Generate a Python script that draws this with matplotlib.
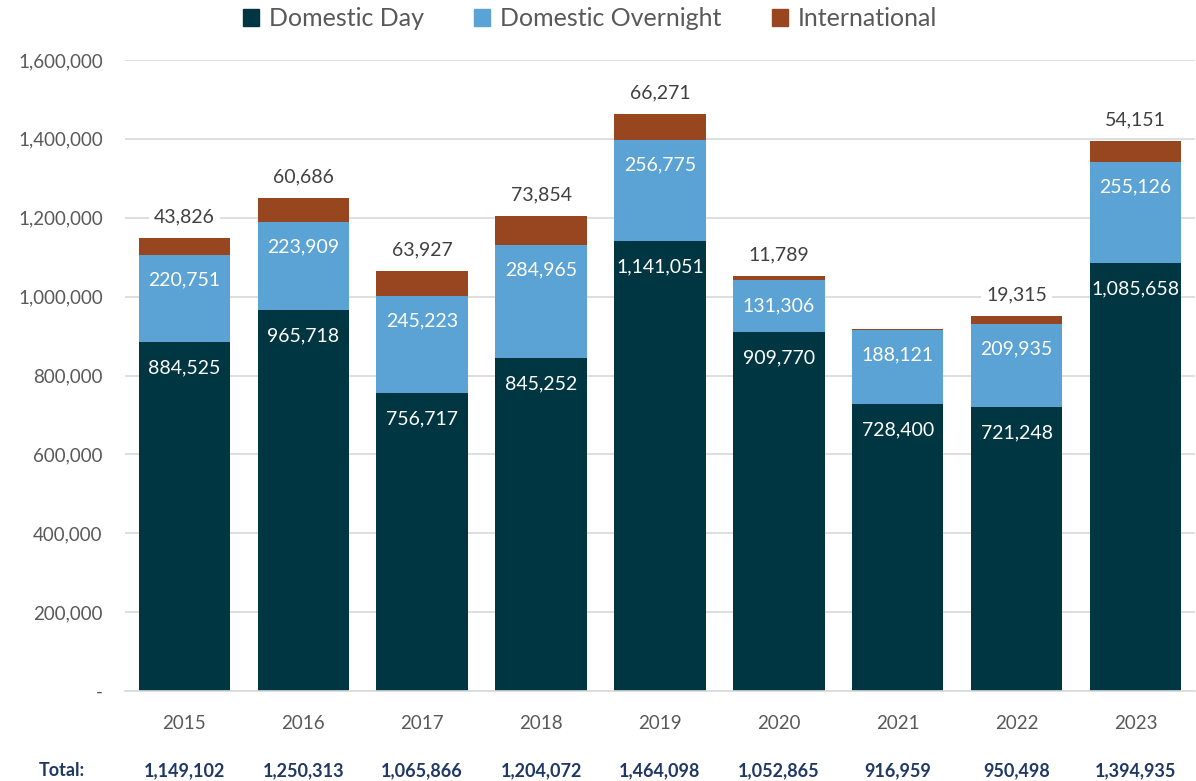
import matplotlib
matplotlib.use("Agg")
import matplotlib.pyplot as plt
from matplotlib.patches import Patch
from matplotlib.ticker import FuncFormatter

plt.rcParams["font.family"] = ["Lato", "DejaVu Sans"]

years = ["2015", "2016", "2017", "2018", "2019", "2020", "2021", "2022", "2023"]
domestic_day = [884525, 965718, 756717, 845252, 1141051, 909770, 728400, 721248, 1085658]
domestic_overnight = [220751, 223909, 245223, 284965, 256775, 131306, 188121, 209935, 255126]
international = [43826, 60686, 63927, 73854, 66271, 11789, 438, 19315, 54151]
totals = [1149102, 1250313, 1065866, 1204072, 1464098, 1052865, 916959, 950498, 1394935]
show_intl_label = [True, True, True, True, True, True, False, True, True]

c_day = "#003641"
c_night = "#5BA3D5"
c_intl = "#984620"
grey = "#595959"

fig = plt.figure(figsize=(11.96, 7.81), dpi=100)
ax = fig.add_axes([0.1045, 0.1152, 0.8945, 0.808])

x = list(range(len(years)))
w = 0.77
ax.bar(x, domestic_day, w, color=c_day, zorder=2)
ax.bar(x, domestic_overnight, w, bottom=domestic_day, color=c_night, zorder=2)
bottom3 = [a + b for a, b in zip(domestic_day, domestic_overnight)]
ax.bar(x, international, w, bottom=bottom3, color=c_intl, zorder=2)

for i in x:
    ax.annotate(f"{domestic_day[i]:,}", (i, domestic_day[i]), xytext=(0, -26),
                textcoords="offset pixels", ha="center", va="center",
                color="white", fontsize=14, zorder=3)
    ax.annotate(f"{domestic_overnight[i]:,}", (i, bottom3[i]), xytext=(0, -25),
                textcoords="offset pixels", ha="center", va="center",
                color="white", fontsize=14, zorder=3)
    if show_intl_label[i]:
        top = bottom3[i] + international[i]
        ax.annotate(f"{international[i]:,}", (i, top), xytext=(0, 21),
                    textcoords="offset pixels", ha="center", va="center",
                    color="#404040", fontsize=14, zorder=3,
                    bbox=dict(boxstyle="square,pad=0.25", fc="white", ec="none"))

ax.set_xlim(-0.5, len(years) - 0.5)
ax.set_ylim(0, 1600000)
ax.set_yticks(range(0, 1600001, 200000))
ax.yaxis.set_major_formatter(FuncFormatter(lambda v, p: "-" if v == 0 else f"{int(v):,}"))
ax.set_xticks(x)
ax.set_xticklabels(years)
ax.tick_params(axis="both", length=0, colors=grey, labelsize=13.5)
ax.tick_params(axis="x", pad=17)
ax.tick_params(axis="y", pad=16)
ax.grid(axis="y", color="#D9D9D9", lw=1.2, zorder=0)
for s in ["top", "right", "left"]:
    ax.spines[s].set_visible(False)
ax.spines["bottom"].set_color("#D9D9D9")
ax.spines["bottom"].set_linewidth(1.2)

# totals row
navy = "#1F3864"
fig.text(62 / 1196, 1 - 771 / 781, "Total:", ha="center", va="center",
         fontsize=13, fontweight="bold", color=navy)
for i in x:
    ax.annotate(f"{totals[i]:,}", (i, 0), xycoords=("data", "axes fraction"),
                xytext=(0, -80), textcoords="offset pixels", ha="center", va="center",
                fontsize=13, fontweight="bold", color=navy)

handles = [Patch(color=c_day), Patch(color=c_night), Patch(color=c_intl)]
fig.legend(handles, ["Domestic Day", "Domestic Overnight", "International"],
           loc="center", bbox_to_anchor=(590 / 1196, 1 - 19 / 781), ncol=3,
           frameon=False, fontsize=18, labelcolor=grey, handlelength=0.65,
           handleheight=0.65, handletextpad=0.4, columnspacing=2.0)

fig.savefig("out.png", dpi=100)
